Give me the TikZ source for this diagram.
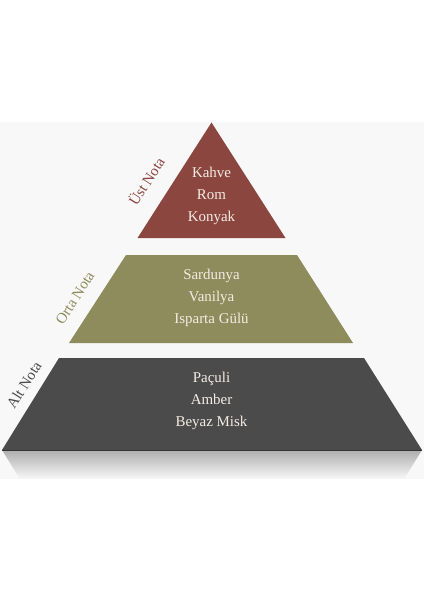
\documentclass[tikz,border=0pt]{standalone}
\usepackage{fontspec}
\setmainfont{Liberation Serif}
\usetikzlibrary{positioning}
\definecolor{ustrenk}{HTML}{8B4640}
\definecolor{ortarenk}{HTML}{8E8C5C}
\definecolor{altrenk}{HTML}{4B4B4B}
\definecolor{zemin}{HTML}{F8F8F8}
\definecolor{yazirenk}{HTML}{F4ECE4}
\begin{document}
\begin{tikzpicture}[x=1bp, y=-1bp,
                    katman/.style={text=yazirenk, align=center, font=\fontsize{15}{22}\selectfont},
                    etiket/.style={font=\fontsize{15}{16}\selectfont, rotate=57.5}
                    ]

\useasboundingbox (0,0) rectangle (424,600);
\fill[zemin] (0,122) rectangle (424,479);

\coordinate (tepe) at (211.5,122.5);
\coordinate (ustsol) at (137.5,238);
\coordinate (ustsag) at (285.5,238);
\coordinate (ortaust1) at (126,255);
\coordinate (ortaust2) at (297,255);
\coordinate (ortaalt1) at (69,343);
\coordinate (ortaalt2) at (353,343);
\coordinate (altust1) at (59,358);
\coordinate (altust2) at (364,358);
\coordinate (altalt1) at (2,450);
\coordinate (altalt2) at (422,450);
\coordinate (yansima1) at (20,479);
\coordinate (yansima2) at (404,479);

\shade[top color=black!32, bottom color=zemin] (altalt1) -- (altalt2) -- (yansima2) -- (yansima1) -- cycle;
\fill[ustrenk] (tepe) -- (ustsag) -- (ustsol) -- cycle;
\fill[ortarenk] (ortaust1) -- (ortaust2) -- (ortaalt2) -- (ortaalt1) -- cycle;
\fill[altrenk] (altust1) -- (altust2) -- (altalt2) -- (altalt1) -- cycle;
\draw[black!80, line width=0.8bp] (altalt1) -- (altalt2);

\node[katman] (ust) at (211.5,196) {Kahve\\Rom\\Konyak};
\node[katman] (orta) at (211.5,298) {Sardunya\\Vanilya\\Isparta Gülü};
\node[katman] (alt) at (211.5,401) {Paçuli\\Amber\\Beyaz Misk};

\node[etiket, text=ustrenk] (ustetiket) at (146,181) {Üst Nota};
\node[etiket, text=ortarenk] (ortaetiket) at (75,298) {Orta Nota};
\node[etiket, text=altrenk] (altetiket) at (24,385) {Alt Nota};

\end{tikzpicture}
\end{document}
